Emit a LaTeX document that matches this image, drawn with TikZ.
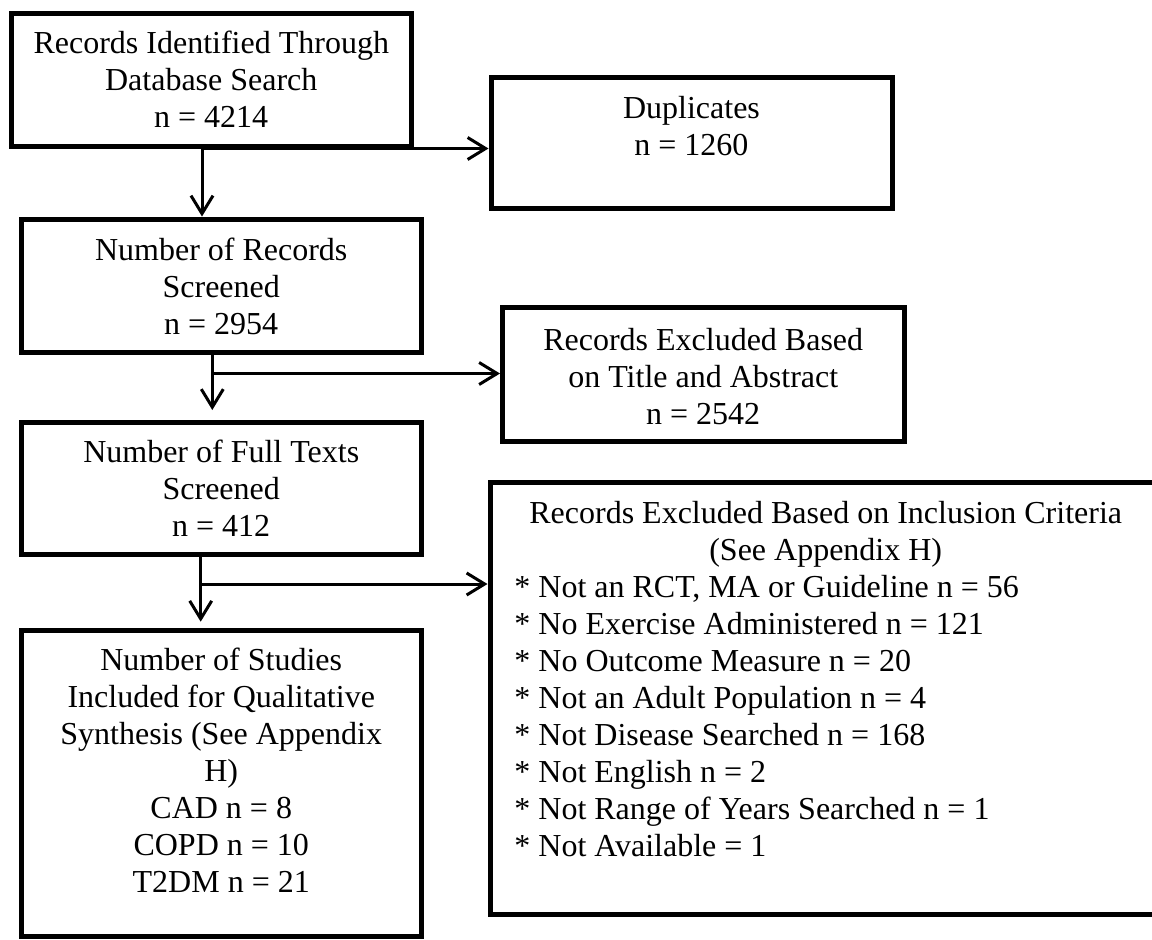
\documentclass[tikz,border=0pt]{standalone}
\usepackage{fontspec}
\setmainfont{Liberation Serif}
\usetikzlibrary{arrows.meta}

\tikzset{
  box/.style={draw, line width=2.5pt, inner sep=0pt, rectangle},
  boxtext/.style={inner sep=0pt, anchor=base, align=flush center,
    font=\fontsize{16pt}{18.5pt}\selectfont},
  listtext/.style={inner sep=0pt, anchor=base west, align=flush left, text width=330pt,
    font=\fontsize{16pt}{18.5pt}\selectfont},
  conn/.style={line width=1.5pt, -{Straight Barb[length=9pt,width=11pt]}}
}

\begin{document}
\begin{tikzpicture}[x=0.5pt, y=-0.5pt]
  \clip (0,0) rectangle (1152,939);
  \fill[white] (0,0) rectangle (1152,939);

  % boxes
  \node[box, minimum width=200.25pt, minimum height=66.5pt]  (b1)   at (211.25,80)    {};
  \node[box, minimum width=200.5pt,  minimum height=65.25pt] (dup)  at (691.5,142.75) {};
  \node[box, minimum width=200.25pt, minimum height=66.75pt] (b2)   at (221.25,285.75){};
  \node[box, minimum width=200.75pt, minimum height=66.75pt] (tabs) at (703.25,374.25){};
  \node[box, minimum width=200.25pt, minimum height=66pt]    (b3)   at (221.25,488)   {};
  \node[box, minimum width=200.25pt, minimum height=153pt]   (b4)   at (221.25,783)   {};
  \node[box, minimum width=335.75pt, minimum height=216pt]   (incl) at (825.75,698.5) {};

  % box texts
  \node[boxtext, text width=195pt] (t1) at (211.25,53.5)
    {Records Identified Through\\Database Search\\n = 4214};
  \node[boxtext, text width=195pt] (tdup) at (691.5,118)
    {Duplicates\\n = 1260};
  \node[boxtext, text width=195pt] (t2) at (221.25,260)
    {Number of Records\\Screened\\n = 2954};
  \node[boxtext, text width=195pt] (ttabs) at (703.25,350)
    {Records Excluded Based\\on Title and Abstract\\n = 2542};
  \node[boxtext, text width=195pt] (t3) at (221.25,462)
    {Number of Full Texts\\Screened\\n = 412};
  \node[boxtext, text width=195pt] (t4) at (221.25,670)
    {Number of Studies\\Included for Qualitative\\Synthesis (See Appendix\\H)\\CAD n = 8\\COPD n = 10\\T2DM n = 21};
  \node[boxtext, text width=330pt] (tincl) at (825.75,523)
    {Records Excluded Based on Inclusion Criteria\\(See Appendix H)};
  \node[listtext] (lincl) at (514,597)
    {* Not an RCT, MA or Guideline n = 56\\{}%
     * No Exercise Administered n = 121\\{}%
     * No Outcome Measure n = 20\\{}%
     * Not an Adult Population n = 4\\{}%
     * Not Disease Searched n = 168\\{}%
     * Not English n = 2\\{}%
     * Not Range of Years Searched n = 1\\{}%
     * Not Available = 1};

  % branch points and arrow ends
  \coordinate (s1) at (202,148.5);
  \coordinate (s2) at (212.3,373.5);
  \coordinate (e2) at (212.3,410);
  \coordinate (s3) at (200.7,584);
  \coordinate (e3) at (200.7,621.7);

  % connectors
  \draw[conn] (b1.south -| s1) -- (b2.north -| s1);
  \draw[conn] (s1) -- (s1 -| dup.west);

  \draw[conn] (b2.south -| s2) -- (e2);
  \draw[conn] (s2) -- (s2 -| tabs.west);

  \draw[conn] (b3.south -| s3) -- (e3);
  \draw[conn] (s3) -- (s3 -| incl.west);
\end{tikzpicture}
\end{document}
